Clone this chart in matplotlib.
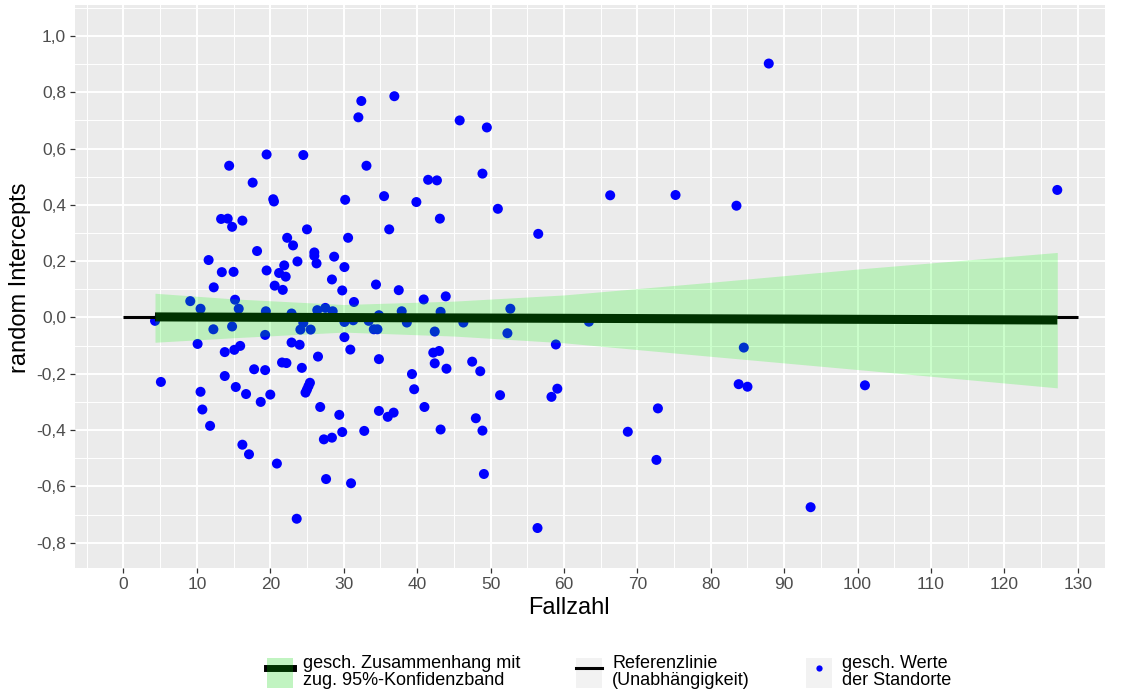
import numpy as np
import matplotlib
matplotlib.use("Agg")
import matplotlib.pyplot as plt
from matplotlib.ticker import MultipleLocator, FuncFormatter
from matplotlib.patches import Patch
from matplotlib.lines import Line2D
from matplotlib.legend_handler import HandlerTuple

plt.rcParams['font.family'] = ['Liberation Sans', 'DejaVu Sans']

# geschätzte random Intercepts je Standort (Fallzahl, Intercept)
fallzahl = [
    14.4, 19.5, 17.6, 20.4, 20.5, 13.3, 14.2, 14.8, 16.2, 22.3, 23.1, 18.2, 11.6,
    13.4, 15.0, 19.5, 21.2, 21.9, 22.1, 23.7, 20.6, 21.7, 12.3, 9.1, 10.5, 15.2, 15.7,
    4.3, 19.4, 22.9, 12.25, 14.8, 19.3, 10.1, 13.8, 15.1, 15.9, 22.9, 24.0, 21.6, 22.2,
    17.8, 19.3, 5.1, 13.8, 15.3, 10.5, 16.7, 18.7, 20.0, 10.75, 11.8, 16.2, 17.1, 20.9,
    23.6,
    24.5, 32.4, 36.9, 32.0, 45.8, 49.5, 33.1, 48.9, 41.5, 42.7, 30.2, 35.5, 39.9, 51.0,
    43.1, 25.0, 30.6, 36.2, 56.5, 26.0, 26.0, 26.3, 28.7, 30.1, 28.4, 29.8, 34.4, 37.5,
    31.4, 40.9, 43.9, 52.7, 27.5,
    26.4, 28.5, 37.9, 43.2, 24.3, 24.1, 24.5, 25.5, 30.1, 31.3, 33.4, 34.8, 38.6, 46.3,
    30.1, 34.1, 34.6, 42.4, 52.3, 30.9, 26.5, 34.8, 42.2, 43.0, 42.4, 44.0, 47.5, 48.6,
    58.9, 39.3, 39.6, 25.4, 25.2, 25.0, 24.8, 26.8, 29.4, 29.8, 27.3, 28.4, 32.8, 34.8,
    36.0, 36.8, 41.0, 43.2, 48.0, 48.9, 51.3, 58.3, 59.1, 27.6, 31.0, 49.1, 56.4,
    87.9, 66.3, 75.2, 83.5, 127.2, 63.4, 84.5, 83.8, 85.0, 101.0, 72.8, 68.7, 72.6, 93.6,
]
intercepts = [
    0.539, 0.579, 0.479, 0.420, 0.412, 0.350, 0.351, 0.322, 0.344, 0.283, 0.256, 0.236, 0.204,
    0.161, 0.162, 0.167, 0.158, 0.185, 0.145, 0.199, 0.113, 0.098, 0.107, 0.058, 0.031, 0.063, 0.031,
    -0.012, 0.022, 0.014, -0.042, -0.032, -0.062, -0.094, -0.123, -0.115, -0.101, -0.089, -0.097, -0.160, -0.162,
    -0.184, -0.187, -0.229, -0.208, -0.247, -0.264, -0.272, -0.300, -0.274, -0.327, -0.385, -0.452, -0.486, -0.519,
    -0.715,
    0.577, 0.769, 0.786, 0.711, 0.700, 0.675, 0.539, 0.511, 0.489, 0.487, 0.418, 0.431, 0.410, 0.386,
    0.351, 0.313, 0.283, 0.313, 0.297, 0.231, 0.219, 0.192, 0.216, 0.179, 0.135, 0.096, 0.117, 0.097,
    0.055, 0.064, 0.075, 0.031, 0.034,
    0.026, 0.022, 0.022, 0.020, -0.179, -0.043, -0.019, -0.043, -0.016, -0.010, -0.012, 0.008, -0.018, -0.018,
    -0.070, -0.042, -0.042, -0.050, -0.056, -0.114, -0.139, -0.148, -0.125, -0.119, -0.163, -0.182, -0.157, -0.191,
    -0.096, -0.201, -0.255, -0.232, -0.244, -0.256, -0.267, -0.318, -0.346, -0.407, -0.433, -0.427, -0.403, -0.332,
    -0.353, -0.338, -0.318, -0.398, -0.358, -0.402, -0.276, -0.282, -0.253, -0.574, -0.589, -0.556, -0.748,
    0.902, 0.434, 0.435, 0.397, 0.453, -0.015, -0.107, -0.237, -0.246, -0.241, -0.323, -0.406, -0.506, -0.674,
]

# geschätzter Zusammenhang mit 95%-Konfidenzband
fit_x = [4.3, 127.2]
fit_y = [0.002, -0.009]
band_x = [4.3, 15.0, 30.0, 45.0, 60.0, 80.0, 100.0, 127.2]
band_lo = [-0.088, -0.072, -0.052, -0.066, -0.090, -0.138, -0.185, -0.250]
band_hi = [0.086, 0.066, 0.046, 0.058, 0.080, 0.125, 0.172, 0.231]

# Referenzlinie (Unabhängigkeit)
ref_x = [0, 130]
ref_y = [0, 0]

fig = plt.figure(figsize=(11.24, 6.98), dpi=100)
ax = fig.add_axes([75 / 1124, 1 - 568 / 698, 1030 / 1124, 563 / 698])
ax.set_facecolor('#EBEBEB')
for s in ax.spines.values():
    s.set_visible(False)

ax.scatter(fallzahl, intercepts, s=52, color='blue', edgecolors='none', zorder=2)
ax.plot(fit_x, fit_y, color='black', lw=6.5, solid_capstyle='butt', zorder=3)
ax.plot(ref_x, ref_y, color='black', lw=2.2, solid_capstyle='butt', zorder=3)
ax.fill_between(band_x, band_lo, band_hi, color=(0, 1, 0), alpha=0.2, lw=0, zorder=4)

ax.set_xlim(-6.6, 133.7)
ax.set_ylim(-0.89, 1.11)
ax.xaxis.set_major_locator(MultipleLocator(10))
ax.xaxis.set_minor_locator(MultipleLocator(5))
ax.yaxis.set_major_locator(MultipleLocator(0.2))
ax.yaxis.set_minor_locator(MultipleLocator(0.1))
ax.yaxis.set_major_formatter(FuncFormatter(
    lambda v, p: ('%.1f' % (0 if abs(v) < 1e-9 else v)).replace('.', ',')))

ax.grid(which='major', color='white', lw=1.4)
ax.grid(which='minor', color='white', lw=0.7)
ax.set_axisbelow(True)
ax.tick_params(which='major', length=3.5, width=0.9, color='#333333',
               labelsize=12.5, labelcolor='#4D4D4D', pad=3)
ax.tick_params(which='minor', length=0)

ax.set_xlabel('Fallzahl', fontsize=17)
ax.set_ylabel('random Intercepts', fontsize=17)
ax.xaxis.set_label_coords(0.48, -0.052)
ax.yaxis.set_label_coords(-0.043, 0.515)

# Legende unterhalb der Grafik
key_bg = '#F2F2F2'
h_fit = (Patch(facecolor=key_bg, edgecolor='none'),
         Line2D([], [], color='black', lw=5),
         Patch(facecolor=(0, 1, 0, 0.2), edgecolor='none'))
h_ref = (Patch(facecolor=key_bg, edgecolor='none'),
         Line2D([], [], color='black', lw=2.2))
h_pts = (Patch(facecolor=key_bg, edgecolor='none'),
         Line2D([], [], marker='o', color='blue', ls='none', ms=4.5, mec='none'))
leg = fig.legend(
    [h_fit, h_ref, h_pts],
    ['gesch. Zusammenhang mit\nzug. 95%-Konfidenzband',
     'Referenzlinie\n(Unabhängigkeit)',
     'gesch. Werte\nder Standorte'],
    handler_map={tuple: HandlerTuple(ndivide=1, pad=0)},
    loc='center', bbox_to_anchor=(609 / 1124, 1 - 672 / 698),
    ncol=3, frameon=False, fontsize=13,
    handlelength=1.45, handleheight=2.15, handletextpad=0.55,
    columnspacing=3.1, borderpad=0.2)
for t in leg.get_texts():
    t.set_linespacing(0.95)

fig.savefig('out.png', dpi=100)
